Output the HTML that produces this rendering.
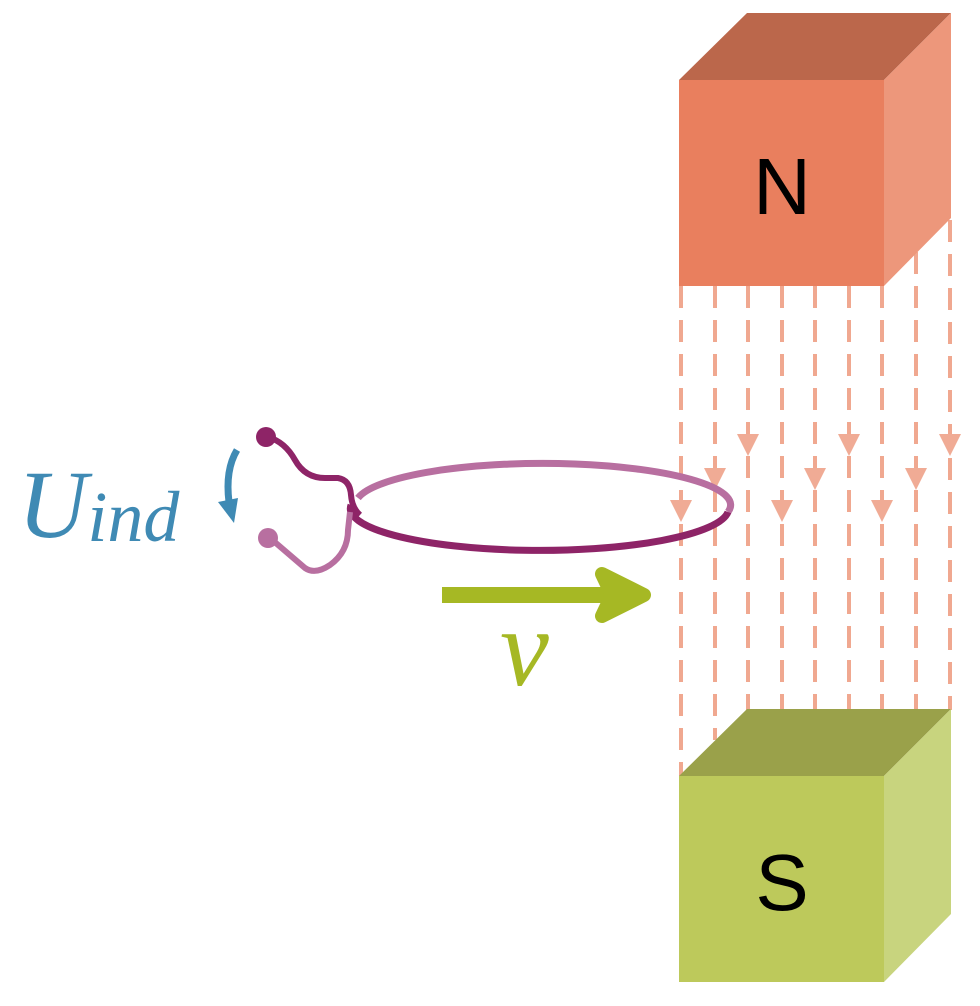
<!DOCTYPE html>
<html><head><style>body{margin:0;background:#fff}svg{display:block}</style></head>
<body>
<svg width="980" height="1006" viewBox="0 0 980 1006" xmlns="http://www.w3.org/2000/svg">
<g stroke="#f0a890" stroke-width="4" stroke-dasharray="22,12">
<line x1="681" y1="286" x2="681" y2="780"/>
<line x1="715" y1="286" x2="715" y2="740"/>
<line x1="748" y1="286" x2="748" y2="740"/>
<line x1="782" y1="286" x2="782" y2="780"/>
<line x1="815" y1="286" x2="815" y2="740"/>
<line x1="849" y1="286" x2="849" y2="740"/>
<line x1="882" y1="286" x2="882" y2="780"/>
<line x1="916" y1="252" x2="916" y2="740"/>
<line x1="950" y1="220" x2="950" y2="710"/>
</g>
<g fill="#f0ab95">
<polygon points="670,500 692,500 681,522"/>
<polygon points="704,468 726,468 715,490"/>
<polygon points="737,434 759,434 748,456"/>
<polygon points="771,500 793,500 782,522"/>
<polygon points="804,468 826,468 815,490"/>
<polygon points="838,434 860,434 849,456"/>
<polygon points="871,500 893,500 882,522"/>
<polygon points="905,468 927,468 916,490"/>
<polygon points="939,434 961,434 950,456"/>
</g>
<polygon points="679,80 747,13 951,13 884,80" fill="#bb674b"/>
<polygon points="884,80 951,13 951,218 884,286" fill="#ed977b"/>
<rect x="679" y="80" width="205" height="206" fill="#e97f5e"/>
<text x="782" y="214" font-family="Liberation Sans, sans-serif" font-size="80" text-anchor="middle" fill="#000">N</text>
<polygon points="679,776 747,709 951,709 884,776" fill="#9aa14a"/>
<polygon points="884,776 951,709 951,914 884,982" fill="#c8d47e"/>
<rect x="679" y="776" width="205" height="206" fill="#bdc95b"/>
<text x="782" y="910" font-family="Liberation Sans, sans-serif" font-size="80" text-anchor="middle" fill="#000">S</text>
<path d="M358,498 A185,41 0 0 1 728,512" fill="none" stroke="#b86fa0" stroke-width="7"/>
<path d="M728,512 A185,41 0 0 1 351,505" fill="none" stroke="#8e2467" stroke-width="7"/>
<path d="M270,538 L305,568 Q315,575 330,565 Q348,552 348,530 L350,512" fill="none" stroke="#b86fa0" stroke-width="6"/>
<circle cx="268" cy="538" r="10" fill="#b86fa0"/>
<path d="M268,437 Q285,442 295,460 Q305,478 325,478 L338,478 Q350,480 351,495 Q352,508 360,515" fill="none" stroke="#8e2467" stroke-width="6"/>
<circle cx="266" cy="437" r="10" fill="#8e2467"/>
<path d="M237,450 Q225,470 229,502" fill="none" stroke="#3f8ab4" stroke-width="7"/>
<polygon points="218,502 238,498 234,523" fill="#3f8ab4"/>
<text x="18" y="537" font-family="Liberation Serif, serif" font-style="italic" font-size="96" fill="#3f8ab4">U<tspan font-size="72" dy="4">ind</tspan></text>
<line x1="442" y1="595" x2="612" y2="595" stroke="#a6b824" stroke-width="16"/>
<polygon points="602,574 644,595 602,616 612,595" fill="#a6b824" stroke="#a6b824" stroke-width="14" stroke-linejoin="round"/>
<text x="500" y="685" font-family="Liberation Serif, serif" font-style="italic" font-size="110" fill="#a6b824">v</text>
</svg>
</body></html>
